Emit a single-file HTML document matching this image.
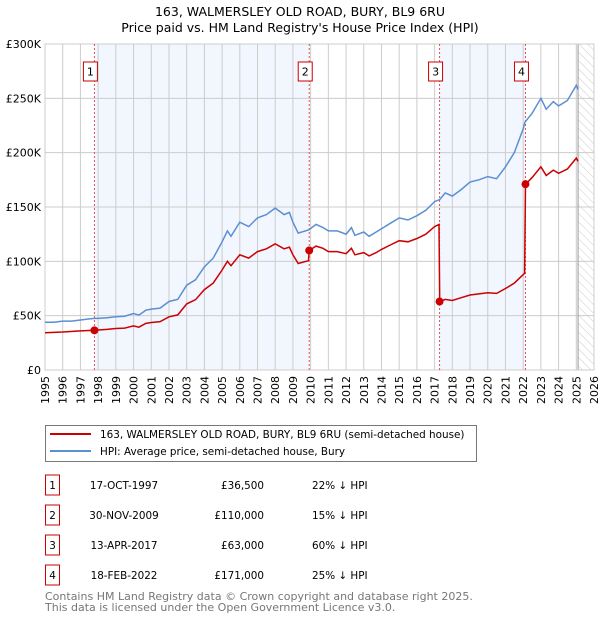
<!DOCTYPE html>
<html><head><meta charset="utf-8"><style>
body{margin:0;background:#fff;width:600px;height:620px;overflow:hidden;font-family:"DejaVu Sans","Liberation Sans",sans-serif}
svg text{font-family:"DejaVu Sans","Liberation Sans",sans-serif}
</style></head><body>
<svg id="chart" width="600" height="620" viewBox="0 0 600 620">
<defs>
<pattern id="hatch" width="6" height="6" patternUnits="userSpaceOnUse" patternTransform="rotate(-45)">
<line x1="0" y1="0" x2="0" y2="6" stroke="#ccc" stroke-width="1"/>
</pattern>
</defs>
<text x="300" y="16" text-anchor="middle" font-size="12.5">163, WALMERSLEY OLD ROAD, BURY, BL9 6RU</text>
<text x="300" y="32" text-anchor="middle" font-size="12.5">Price paid vs. HM Land Registry's House Price Index (HPI)</text>
<g id="plot"></g>
<g>
<rect x="45.5" y="425.5" width="431" height="36" fill="#fff" stroke="#777"/>
<line x1="50" y1="434" x2="91" y2="434" stroke="#cc0000" stroke-width="2"/>
<text x="100" y="438" font-size="10.4">163, WALMERSLEY OLD ROAD, BURY, BL9 6RU (semi-detached house)</text>
<line x1="50" y1="451" x2="91" y2="451" stroke="#5b8fd4" stroke-width="2"/>
<text x="100" y="455" font-size="10.4">HPI: Average price, semi-detached house, Bury</text>
</g>
<g id="table"></g>
<text x="45" y="600" font-size="11" fill="#777">Contains HM Land Registry data © Crown copyright and database right 2025.</text>
<text x="45" y="611" font-size="11" fill="#777">This data is licensed under the Open Government Licence v3.0.</text>
</svg>
<script>
const hpiYears=[1995,1995.5,1996,1996.5,1997,1997.5,1997.8,1998,1998.5,1999,1999.5,2000,2000.3,2000.7,2001,2001.5,2002,2002.5,2003,2003.5,2004,2004.5,2005,2005.3,2005.5,2006,2006.5,2007,2007.5,2008,2008.5,2008.8,2009,2009.3,2009.9,2010.3,2010.7,2011,2011.5,2012,2012.3,2012.5,2013,2013.3,2013.7,2014,2014.5,2015,2015.5,2016,2016.5,2017,2017.3,2017.6,2018,2018.5,2019,2019.5,2020,2020.5,2021,2021.5,2022,2022.1,2022.5,2023,2023.3,2023.7,2024,2024.5,2025,2025.1];
const hpiValues=[44,44,45,45,46,47,47.5,47.5,48,49,49.5,52,50.5,55,56,57,63,65,78,83,95,103,118,128,123,136,132,140,143,149,143,145,136,126,129,134,131,128,128,125,131,124,127,123,127,130,135,140,138,142,147,155,157,163,160,166,173,175,178,176,187,200,222,228,236,250,240,247,243,248,262,258];
const priceYears=[1995,1996,1997,1997.8,1998.5,1999,1999.5,2000,2000.3,2000.7,2001,2001.5,2002,2002.5,2003,2003.5,2004,2004.5,2005,2005.3,2005.5,2006,2006.5,2007,2007.5,2008,2008.5,2008.8,2009,2009.3,2009.88,2009.92,2010.3,2010.7,2011,2011.5,2012,2012.3,2012.5,2013,2013.3,2013.7,2014,2014.5,2015,2015.5,2016,2016.5,2017,2017.25,2017.29,2017.6,2018,2018.5,2019,2019.5,2020,2020.5,2021,2021.5,2022.08,2022.13,2022.5,2023,2023.3,2023.7,2024,2024.5,2025,2025.1];
const priceValues=[34.3,35,36,36.5,37.4,38.2,38.6,40.6,39.4,42.9,43.7,44.5,49,50.7,60.8,64.7,74,80,92,100,96,106,103,109,111.5,116,111.5,113,106,98,100.6,110,114,112,109,109,107,112,106,108,105,108,111,115,119,118,121,125,132,134,63,65,64,66.5,69,70,71,70.5,75,80,89,171,177,187,179,184,181,185,195,192];
const saleYears=[1997.79,2009.92,2017.28,2022.13];
const saleValues=[36.5,110,63,171];
const saleLabels=["1","2","3","4"];
const saleDates=["17-OCT-1997","30-NOV-2009","13-APR-2017","18-FEB-2022"];
const salePrices=["£36,500","£110,000","£63,000","£171,000"];
const saleHpi=["22% ↓ HPI","15% ↓ HPI","60% ↓ HPI","25% ↓ HPI"];
const yTicks=[0,50,100,150,200,250,300];
const yTickLabels=["£0","£50K","£100K","£150K","£200K","£250K","£300K"];
const xTicks=[1995,1996,1997,1998,1999,2000,2001,2002,2003,2004,2005,2006,2007,2008,2009,2010,2011,2012,2013,2014,2015,2016,2017,2018,2019,2020,2021,2022,2023,2024,2025,2026];

const X0=45,X1=594,Y0=370,Y1=44,xmin=1995,xmax=2026,ymax=300,dataEnd=2025.1;
const sx=v=>X0+(v-xmin)/(xmax-xmin)*(X1-X0);
const sy=v=>Y0-v/ymax*(Y0-Y1);
const NS="http://www.w3.org/2000/svg";
const plot=document.getElementById('plot');
function mk(tag,attrs,parent){const e=document.createElementNS(NS,tag);for(const k in attrs)e.setAttribute(k,attrs[k]);(parent||plot).appendChild(e);return e;}

let e=mk('rect',{x:X0,y:Y1,width:X1-X0,height:Y0-Y1,fill:'#fff'});


for(let i=0;i<saleYears.length;i+=2){
  const a=saleYears[i],b=saleYears[i+1];
  e=mk('rect',{x:sx(a),y:Y1,width:sx(b)-sx(a),height:Y0-Y1,fill:'#f2f6fe'});
  
  
}
e=mk('rect',{x:sx(dataEnd),y:Y1,width:X1-sx(dataEnd),height:Y0-Y1,fill:'url(#hatch)'});


xTicks.forEach(t=>{
  e=mk('line',{x1:sx(t),x2:sx(t),y1:Y1,y2:Y0,stroke:'#ccc','stroke-width':1});
  
  
  const tx=mk('text',{x:0,y:0,'font-size':11,'text-anchor':'end',transform:`translate(${sx(t)+4},${Y0+6}) rotate(-90)`});
  tx.textContent=t;
  
  
});
yTicks.forEach((t,i)=>{
  e=mk('line',{x1:X0,x2:X1,y1:sy(t),y2:sy(t),stroke:'#ccc','stroke-width':1});
  
  
  const tx=mk('text',{x:X0-4,y:sy(t)+4,'font-size':11,'text-anchor':'end'});
  tx.textContent=yTickLabels[i];
  
  
});
e=mk('line',{x1:sx(dataEnd),x2:sx(dataEnd),y1:Y1,y2:Y0,stroke:'#999','stroke-width':1});


e=mk('rect',{x:X0,y:Y1,width:X1-X0,height:Y0-Y1,fill:'none',stroke:'#ccc'});


saleYears.forEach((s,i)=>{
  e=mk('line',{x1:sx(s),x2:sx(s),y1:Y1,y2:Y0,stroke:'#e05050','stroke-width':1,'stroke-dasharray':'2,2'});
  
  
  e=mk('rect',{x:sx(s)-11,y:62,width:14,height:19,fill:'#fff',stroke:'#cc0000'});
  
  
  const tx=mk('text',{x:sx(s)-4,y:75.5,'font-size':11,'text-anchor':'middle'});
  tx.textContent=saleLabels[i];
  
  
});
function path(xs,ys){return xs.map((x,i)=>(i?'L':'M')+sx(x).toFixed(1)+','+sy(ys[i]).toFixed(1)).join('');}
e=mk('path',{d:path(hpiYears,hpiValues),fill:'none',stroke:'#5b8fd4','stroke-width':1.5});


e=mk('path',{d:path(priceYears,priceValues),fill:'none',stroke:'#cc0000','stroke-width':1.5});


saleYears.forEach((s,i)=>{
  e=mk('circle',{cx:sx(s),cy:sy(saleValues[i]),r:4,fill:'#cc0000'});
  
  
});
const tbl=document.getElementById('table');
saleLabels.forEach((l,i)=>{
  const cy=485+i*30;
  e=mk('rect',{x:45.5,y:cy-10,width:14,height:20,fill:'#fff',stroke:'#cc0000'},tbl);
  
  
  let t=mk('text',{x:52.5,y:cy+4,'font-size':10.4,'text-anchor':'middle'},tbl);t.textContent=l;
  
  
  t=mk('text',{x:124,y:cy+4,'font-size':10.4,'text-anchor':'middle'},tbl);t.textContent=saleDates[i];
  
  
  t=mk('text',{x:264,y:cy+4,'font-size':10.4,'text-anchor':'end'},tbl);t.textContent=salePrices[i];
  
  
  t=mk('text',{x:312,y:cy+4,'font-size':10.4},tbl);t.textContent=saleHpi[i];
  
  
});
</script>
</body></html>
